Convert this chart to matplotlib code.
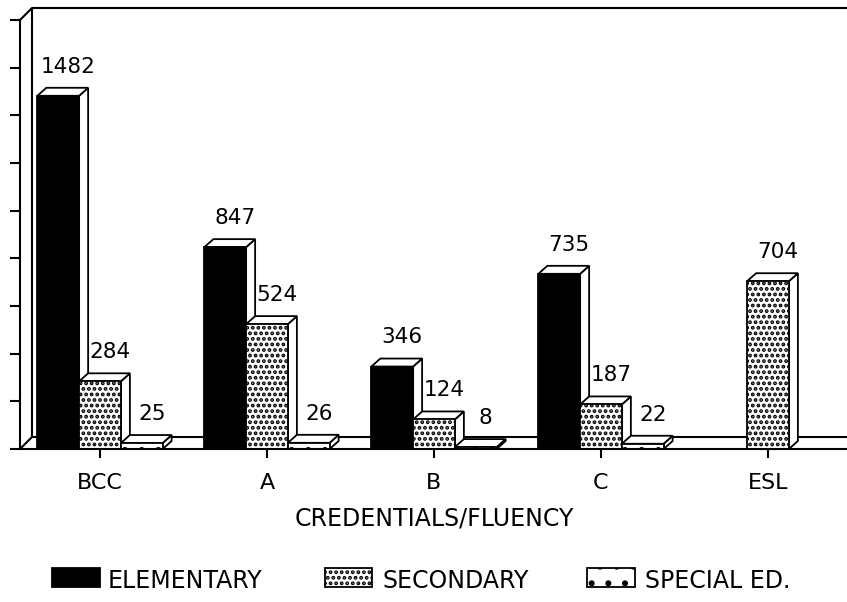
import numpy as np
import matplotlib
matplotlib.use("Agg")
import matplotlib.pyplot as plt
from matplotlib.patches import Polygon, Rectangle

# ---------------- data ----------------
categories = ["BCC", "A", "B", "C", "ESL"]
series_names = ["ELEMENTARY", "SECONDARY", "SPECIAL ED."]
elementary = [1482, 847, 346, 735, np.nan]
secondary = [284, 524, 124, 187, 704]
special_ed = [25, 26, 8, 22, np.nan]
x_label = "CREDENTIALS/FLUENCY"
y_ticks = list(range(0, 1801, 200))

# ---------------- style ----------------
plt.rcParams["font.family"] = ["DejaVu Sans"]
plt.rcParams["hatch.linewidth"] = 1.9
FS = 16

W, H = 847, 602
fig = plt.figure(figsize=(W / 100, H / 100), dpi=100)
fig.patch.set_facecolor("white")

# axes box in pixel units
L, R, T, B = 20, 847, 20, 449
ax = fig.add_axes([L / W, 1 - B / H, (R - L) / W, (B - T) / H])
PX_X = 167.0   # pixels per category
X0 = 100.0     # pixel of first category
xmin, xmax = (L - X0) / PX_X, (R - X0) / PX_X
ax.set_xlim(xmin, xmax)
ax.set_ylim(0, 1800)
UPY = 1800.0 / (B - T)  # data units per pixel (y)

lw = 1.5
for s in ["top", "right"]:
    ax.spines[s].set_visible(False)
for s in ["left", "bottom"]:
    ax.spines[s].set_linewidth(lw)
    ax.spines[s].set_zorder(50)

ax.set_yticks(y_ticks)
ax.tick_params(axis="y", direction="out", length=7, width=lw, labelleft=False)
xpos = np.arange(len(categories))
ax.set_xticks(xpos)
ax.set_xticklabels(categories)
ax.tick_params(axis="x", direction="out", length=6.5, width=lw, labelsize=FS, pad=11)

ax.set_xlabel(x_label, fontsize=FS + 1)
ax.xaxis.set_label_coords((434.5 - L) / (R - L), (B - 519) / (B - T))
ax.xaxis.label.set_va("center")

# back wall / floor (3-D frame)
wdx, wdy = 12 / PX_X, 12 * UPY
kw = dict(color="black", lw=lw, clip_on=False, zorder=1, solid_capstyle="butt")
ax.plot([xmin + wdx, xmin + wdx], [wdy, 1800 + wdy], **kw)
ax.plot([xmin, xmin + wdx, xmax + 1], [1800, 1800 + wdy, 1800 + wdy], **kw)
ax.plot([xmin, xmin + wdx, xmax + 1], [0, wdy, wdy], **kw)

# ---------------- bars ----------------
width = 0.25
offsets = [-0.25, 0.0, 0.25]
faces = ["black", "white", "white"]
hatches = [None, "...", "."]
series = [elementary, secondary, special_ed]
bdx, bdy = 9 / PX_X, 8 * UPY

containers = []
for j, vals in enumerate(series):
    bc = ax.bar(xpos + offsets[j], vals, width, facecolor=faces[j],
                edgecolor="black", linewidth=1.3, hatch=hatches[j])
    containers.append(bc)

for i in range(len(categories)):
    for j, vals in enumerate(series):
        v = vals[i]
        z = 3 + (i * 3 + j) * 0.01
        rect = containers[j].patches[i]
        rect.set_zorder(z + 0.005)
        if np.isnan(v):
            continue
        x0 = xpos[i] + offsets[j] - width / 2
        x1 = x0 + width
        top = Polygon([(x0, v), (x0 + bdx, v + bdy), (x1 + bdx, v + bdy), (x1, v)],
                      closed=True, facecolor="white", edgecolor="black",
                      linewidth=1.3, zorder=z)
        side = Polygon([(x1, 0), (x1, v), (x1 + bdx, v + bdy), (x1 + bdx, bdy)],
                       closed=True, facecolor="white", edgecolor="black",
                       linewidth=1.3, zorder=z)
        ax.add_patch(side)
        ax.add_patch(top)
        ax.annotate(f"{int(v)}", (xpos[i] + offsets[j] + 10 / PX_X, v + bdy),
                    xytext=(0, 8), textcoords="offset points",
                    ha="center", va="bottom", fontsize=FS - 0.5, zorder=60)

# ---------------- legend (manual) ----------------
leg_boxes = [(52, 100), (325, 372), (587, 635)]
leg_text_x = [108, 382, 645]
by0, by1 = 568, 587
for j, name in enumerate(series_names):
    bx0, bx1 = leg_boxes[j]
    fig.add_artist(Rectangle((bx0 / W, 1 - by1 / H), (bx1 - bx0) / W, (by1 - by0) / H,
                             transform=fig.transFigure, facecolor=faces[j],
                             edgecolor="black", linewidth=1.3, hatch=hatches[j]))
    fig.text(leg_text_x[j] / W, 1 - 581 / H, name, fontsize=FS + 1,
             ha="left", va="center")

fig.savefig("out.png", dpi=100, facecolor="white")
